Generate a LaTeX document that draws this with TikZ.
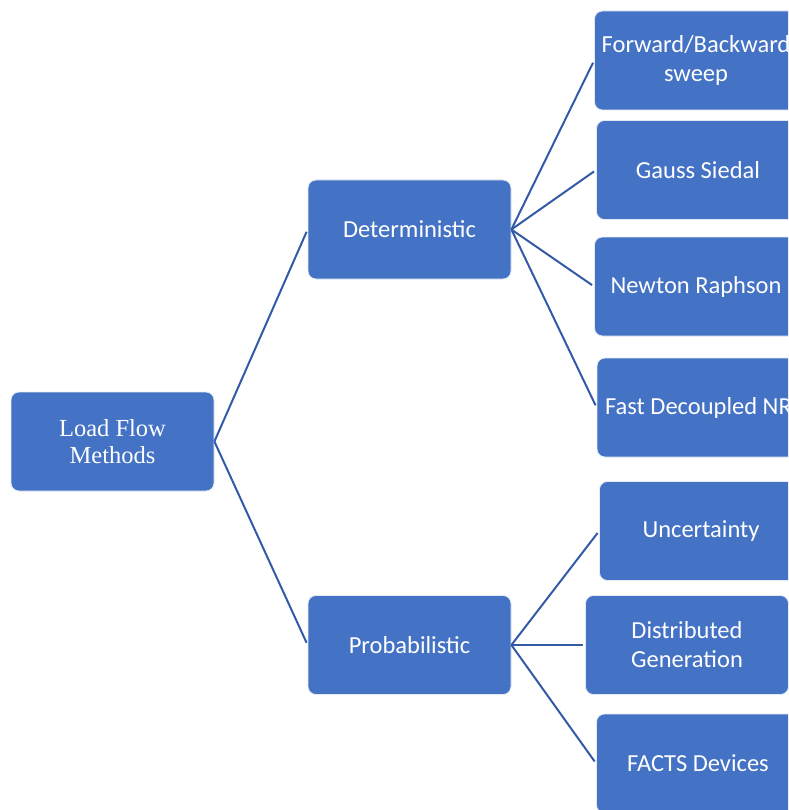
\documentclass[tikz,border=0pt]{standalone}
\usepackage{fontspec}
\setmainfont{Carlito}
\newfontfamily\serifroot{Liberation Serif}
\definecolor{boxblue}{RGB}{68,114,196}
\definecolor{linkblue}{RGB}{52,90,166}
\begin{document}
\begin{tikzpicture}[x=1pt,y=-1pt,
  box/.style={rectangle, rounded corners=8pt, fill=boxblue, draw=white!85!boxblue, line width=0.8pt,
    minimum width=203pt, minimum height=99pt, text=white, align=center, inner sep=0pt,
    font=\fontsize{24.5}{29}\selectfont},
  link/.style={draw=linkblue, line width=2pt, shorten >=2.5pt}]
\clip (0,0) rectangle (788,810);
\useasboundingbox (0,0) rectangle (788,810);
\node[box, font=\serifroot\fontsize{24.5}{27}\selectfont] (root) at (112.5,441.5) {Load Flow\\Methods};
\node[box] (det) at (409.5,229.5) {Deterministic};
\node[box] (prob) at (409.5,645) {Probabilistic};
\node[box] (fb) at (696,60.5) {Forward/Backward\\sweep};
\node[box] (gs) at (698,170) {Gauss Siedal};
\node[box] (nr) at (696,286.5) {Newton Raphson};
\node[box] (fd) at (698.5,407.5) {Fast Decoupled NR};
\node[box] (unc) at (701,531) {Uncertainty};
\node[box] (dg) at (687,645) {Distributed\\Generation};
\node[box] (facts) at (698,763.5) {FACTS Devices};
\draw[link] (root.east) -- (det.west);
\draw[link] (root.east) -- (prob.west);
\foreach \c in {fb,gs,nr,fd} \draw[link] (det.east) -- (\c.west);
\foreach \c in {unc,dg,facts} \draw[link] (prob.east) -- (\c.west);
\end{tikzpicture}
\end{document}
